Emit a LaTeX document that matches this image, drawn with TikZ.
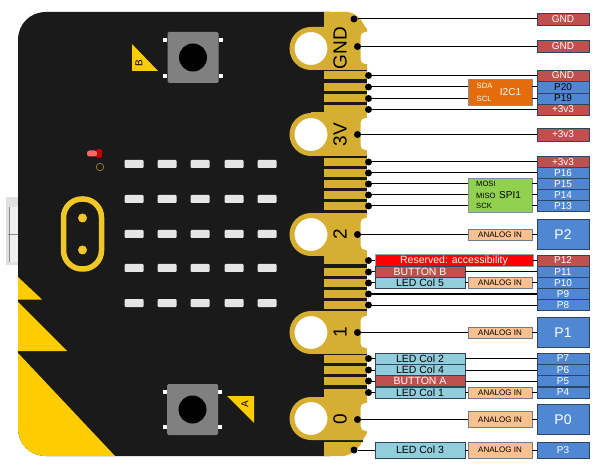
\documentclass[tikz,border=0pt]{standalone}
\usepackage{fontspec}
\setmainfont{Liberation Sans}
\usepackage{tikz}
\definecolor{boardblack}{HTML}{1A1A1A}
\definecolor{padgold}{HTML}{D6AE32}
\definecolor{cornery}{HTML}{FFCC00}
\definecolor{logogold}{HTML}{EFC828}
\definecolor{edgeline}{HTML}{2F4460}
\definecolor{powerred}{HTML}{C0504D}
\definecolor{pinblue}{HTML}{4F87D2}
\definecolor{ledcyan}{HTML}{92CDDC}
\definecolor{analogtan}{HTML}{FAC090}
\definecolor{i2corange}{HTML}{E46C0A}
\definecolor{spigreen}{HTML}{92D050}
\tikzstyle{power}=[rectangle, draw=edgeline, fill=powerred, text=white, minimum width=52pt, inner sep=0pt, text centered, font=\fontsize{10}{12}\selectfont]
\tikzstyle{pin}=[rectangle, draw=edgeline, fill=pinblue, text=white, minimum width=52pt, inner sep=0pt, text centered, font=\fontsize{10}{12}\selectfont]
\tikzstyle{bigpin}=[pin, minimum height=30pt, font=\fontsize{14}{16}\selectfont]
\tikzstyle{ledcol}=[rectangle, draw=edgeline, fill=ledcyan, minimum width=90pt, inner sep=0pt, text centered, font=\fontsize{10.5}{12}\selectfont]
\tikzstyle{btn}=[ledcol, fill=powerred, text=white]
\tikzstyle{analog}=[rectangle, draw=edgeline!70, fill=analogtan, minimum width=64pt, inner sep=0pt, text centered, font=\fontsize{8}{10}\selectfont]
\tikzstyle{busbox}=[rectangle, draw=edgeline!60, minimum width=64pt, inner sep=0pt]
\tikzstyle{bustext}=[inner sep=0pt, anchor=west, font=\fontsize{7.6}{9}\selectfont]
\tikzstyle{busname}=[inner sep=0pt, font=\fontsize{10}{12}\selectfont]
\tikzstyle{dot}=[circle, fill=black, inner sep=0pt, minimum size=7pt]
\tikzstyle{wire}=[black, line width=1pt]
\tikzstyle{strip}=[rectangle, fill=padgold, inner sep=0pt, minimum width=43pt, minimum height=8pt]
\tikzstyle{hole}=[circle, draw=padgold, fill=white, line width=5pt, inner sep=0pt, minimum size=38pt]
\tikzstyle{padtext}=[inner sep=0pt, rotate=90, font=\fontsize{19}{21}\selectfont]
\tikzstyle{lamp}=[rectangle, fill=black!10, inner sep=0pt, minimum width=19pt, minimum height=8pt, rounded corners=1pt]
\tikzstyle{keybody}=[rectangle, fill=black!50, rounded corners=1.5pt, inner sep=0pt, minimum size=51pt]
\tikzstyle{keyhole}=[circle, fill=black, inner sep=0pt, minimum size=28pt]
\tikzstyle{keypin}=[rectangle, fill=white, inner sep=0pt, minimum size=4pt]
\tikzstyle{keytext}=[inner sep=0pt, rotate=90, font=\fontsize{10}{11}\selectfont]

\begin{document}
\begin{tikzpicture}[x=1pt,y=-1pt]
\useasboundingbox (0,0) rectangle (600,473);
%USB
\fill[black!12](6,197) rectangle(18,265);
\fill[black!6](10,207) rectangle(18,262);
\draw[black!45,line width=0.7pt](9.5,207) -- (9.5,262);
\draw[black!45,line width=0.7pt](8,234) -- (18,234);
%Board
\fill[boardblack](330,12) -- (46,12) .. controls (30,12) and (18,24) .. (18,40) -- (18,428) .. controls (18,444) and (30,456) .. (46,456) -- (330,456) -- cycle;
\fill[cornery](18,277) -- (42,299.5) -- (18,299.5) -- cycle;
\fill[cornery](18,302) -- (67,351) -- (18,351) -- cycle;
\fill[cornery](18,353) -- (115,456) -- (46,456) .. controls (30,456) and (18,444) .. (18,428) -- cycle;
\fill[boardblack](324,70) rectangle(367,113);
\fill[boardblack](324,156) rectangle(367,213);
\fill[boardblack](324,256) rectangle(367,311);
\fill[boardblack](324,354) rectangle(367,397);
\fill[boardblack](324,440) rectangle(363,442);
%Gold edge
\fill[padgold](324,12) -- (346,12) .. controls (354,12) and (361,18) .. (364,25) -- (367,29) -- (367,70) -- (311,70) -- (311,27) -- (324,27) -- cycle;
\fill[padgold](311,112.5) rectangle(367,156);
\fill[padgold](311,213) rectangle(367,256);
\fill[padgold](311,311) rectangle(367,354);
\fill[padgold](311,397) -- (367,397) -- (367,433) -- (363,440) -- (311,440) -- cycle;
\fill[padgold](324,442) -- (362,442) .. controls (358,450) and (350,456) .. (342,456) -- (324,456) -- cycle;
\fill[white,rounded corners=5pt](360.5,32) rectangle(373,64);
\fill[white,rounded corners=5pt](360.5,118) rectangle(373,150);
\fill[white,rounded corners=5pt](360.5,218) rectangle(373,250);
\fill[white,rounded corners=5pt](360.5,316) rectangle(373,348);
\fill[white,rounded corners=5pt](360.5,403) rectangle(373,431);
\node[hole] (h1) at (311,48.5){};
\node[hole] (h2) at (311,134.5){};
\node[hole] (h3) at (311,234.5){};
\node[hole] (h4) at (311,332.5){};
\node[hole] (h5) at (311,418.5){};
\node[padtext] (tgnd) at (340,48){GND};
\node[padtext] (t3v) at (340,134.5){3V};
\node[padtext] (t2) at (340,234.5){2};
\node[padtext] (t1) at (340,332.5){1};
\node[padtext] (t0) at (340,419){0};
%Strips
\node[strip] (s1) at (345.5,75.5){};
\node[strip] (s2) at (345.5,87){};
\node[strip] (s3) at (345.5,98.5){};
\node[strip] (s4) at (345.5,109.5){};
\node[strip] (s5) at (345.5,162){};
\node[strip] (s6) at (345.5,173){};
\node[strip] (s7) at (345.5,184){};
\node[strip] (s8) at (345.5,195){};
\node[strip] (s9) at (345.5,206){};
\node[strip] (s10) at (345.5,260.5){};
\node[strip] (s11) at (345.5,272){};
\node[strip] (s12) at (345.5,283){};
\node[strip] (s13) at (345.5,294){};
\node[strip] (s14) at (345.5,305){};
\node[strip] (s15) at (345.5,358.5){};
\node[strip] (s16) at (345.5,370){};
\node[strip] (s17) at (345.5,381){};
\node[strip] (s18) at (345.5,392.5){};
%Logo and red lamp
\draw[logogold,line width=5.5pt,rounded corners=18.5pt](63.5,199) rectangle(101.5,269);
\fill[logogold](82.5,218) circle(4.5);
\fill[logogold](82.5,250) circle(4.5);
\fill[red!75!black,rounded corners=2pt](96,149) rectangle(102,158);
\fill[red!60!white,rounded corners=2.5pt](87,150.5) rectangle(97,156.5);
\draw[padgold!80!black,line width=0.6pt](100,167) circle(3.8);
%Lamps
\node[lamp] (l11) at (134,164){};
\node[lamp] (l12) at (167,164){};
\node[lamp] (l13) at (200,164){};
\node[lamp] (l14) at (234,164){};
\node[lamp] (l15) at (267,164){};
\node[lamp] (l21) at (134,199){};
\node[lamp] (l22) at (167,199){};
\node[lamp] (l23) at (200,199){};
\node[lamp] (l24) at (234,199){};
\node[lamp] (l25) at (267,199){};
\node[lamp] (l31) at (134,234){};
\node[lamp] (l32) at (167,234){};
\node[lamp] (l33) at (200,234){};
\node[lamp] (l34) at (234,234){};
\node[lamp] (l35) at (267,234){};
\node[lamp] (l41) at (134,268){};
\node[lamp] (l42) at (167,268){};
\node[lamp] (l43) at (200,268){};
\node[lamp] (l44) at (234,268){};
\node[lamp] (l45) at (267,268){};
\node[lamp] (l51) at (134,303){};
\node[lamp] (l52) at (167,303){};
\node[lamp] (l53) at (200,303){};
\node[lamp] (l54) at (234,303){};
\node[lamp] (l55) at (267,303){};
%Button B
\node[keypin] (kb1) at (165,40){};
\node[keypin] (kb2) at (221,40){};
\node[keypin] (kb3) at (165,76){};
\node[keypin] (kb4) at (221,76){};
\node[keybody] (kb) at (193,57.5){};
\node[keyhole] (kbh) at (193,57.5){};
\fill[cornery](132,44) -- (158,71) -- (132,71) -- cycle;
\node[keytext] (tb) at (139,63.5){B};
%Button A
\node[keypin] (ka1) at (165,392){};
\node[keypin] (ka2) at (220,392){};
\node[keypin] (ka3) at (165,427){};
\node[keypin] (ka4) at (220,427){};
\node[keybody] (ka) at (192.5,409.5){};
\node[keyhole] (kah) at (192.5,409.5){};
\fill[cornery](227,396) -- (254,396) -- (254,423) -- cycle;
\node[keytext] (ta) at (245,404.5){A};
%Pin column
\node[power,minimum height=12pt] (gnd1) at (563,19){GND};
\node[power,minimum height=12pt] (gnd2) at (563,46.5){GND};
\node[power,minimum height=11pt] (gnd3) at (563,75.5){GND};
\node[pin,minimum height=11.5pt,text=black] (p20) at (563,87){P20};
\node[pin,minimum height=11.5pt,text=black] (p19) at (563,98.5){P19};
\node[power,minimum height=11pt] (vcc1) at (563,109.5){+3v3};
\node[power,minimum height=13pt] (vcc2) at (563,134.5){+3v3};
\node[power,minimum height=11pt] (vcc3) at (563,162){+3v3};
\node[pin,minimum height=11pt] (p16) at (563,173){P16};
\node[pin,minimum height=11pt] (p15) at (563,184){P15};
\node[pin,minimum height=11pt] (p14) at (563,195){P14};
\node[pin,minimum height=11pt] (p13) at (563,206){P13};
\node[bigpin] (p2) at (563,234.5){P2};
\node[power,minimum height=11.5pt] (p12) at (563,260.5){P12};
\node[pin,minimum height=11.5pt] (p11) at (563,272){P11};
\node[pin,minimum height=11pt] (p10) at (563,283){P10};
\node[pin,minimum height=11pt] (p9) at (563,294){P9};
\node[pin,minimum height=11pt] (p8) at (563,305){P8};
\node[bigpin] (p1) at (563,332.5){P1};
\node[pin,minimum height=11pt] (p7) at (563,358.5){P7};
\node[pin,minimum height=11pt] (p6) at (563,370){P6};
\node[pin,minimum height=11pt] (p5) at (563,381){P5};
\node[pin,minimum height=11pt] (p4) at (563,392.5){P4};
\node[bigpin] (p0) at (563,419.5){P0};
\node[pin,minimum height=16pt] (p3) at (563,450){P3};
%Middle boxes
\node[busbox,fill=i2corange,minimum height=26pt] (i2c) at (500,92.5){};
\node[bustext,text=white] (sda) at (476.5,86){SDA};
\node[bustext,text=white] (scl) at (476.5,99){SCL};
\node[busname,text=white] (i2cn) at (510.5,92.5){I2C1};
\node[busbox,fill=spigreen,minimum height=34pt] (spi) at (500,195){};
\node[bustext] (mosi) at (476,184){MOSI};
\node[bustext] (miso) at (476,196){MISO};
\node[bustext] (sck) at (476,206){SCK};
\node[busname] (spin) at (510,195){SPI1};
\node[analog,minimum height=11.5pt] (a2) at (500,234.5){ANALOG IN};
\node[analog,minimum height=11pt] (a10) at (500,283){ANALOG IN};
\node[analog,minimum height=11.5pt] (a1) at (500,332.5){ANALOG IN};
\node[analog,minimum height=11pt] (a4) at (500,392.5){ANALOG IN};
\node[analog,minimum height=16pt] (a0) at (500,419.5){ANALOG IN};
\node[analog,minimum height=16pt] (a3) at (500,450){ANALOG IN};
\node[rectangle,draw=edgeline!50,fill=red,text=white,minimum width=158pt,minimum height=12pt,inner sep=0pt,font=\fontsize{10.5}{12}\selectfont] (res) at (454,260.5){Reserved: accessibility};
\node[btn,minimum height=11pt] (bb) at (420,272){BUTTON B};
\node[ledcol,minimum height=11pt] (c5) at (420,283){LED Col 5};
\node[ledcol,minimum height=11pt] (c2) at (420,358.5){LED Col 2};
\node[ledcol,minimum height=11pt] (c4) at (420,370){LED Col 4};
\node[btn,minimum height=11pt] (ba) at (420,381){BUTTON A};
\node[ledcol,minimum height=11pt] (c1) at (420,392.5){LED Col 1};
\node[ledcol,minimum height=16pt] (c3) at (420,450){LED Col 3};
%Dots
\node[dot] (d1) at (354,19){};
\node[dot] (d2) at (357.5,46.5){};
\node[dot] (d3) at (368.5,75.5){};
\node[dot] (d4) at (368.5,87){};
\node[dot] (d5) at (368.5,98.5){};
\node[dot] (d6) at (368.5,109.5){};
\node[dot] (d7) at (357.5,134.5){};
\node[dot] (d8) at (368.5,162){};
\node[dot] (d9) at (368.5,173){};
\node[dot] (d10) at (368.5,184){};
\node[dot] (d11) at (368.5,195){};
\node[dot] (d12) at (368.5,206){};
\node[dot] (d13) at (357.5,234.5){};
\node[dot] (d14) at (368.5,260.5){};
\node[dot] (d15) at (368.5,272){};
\node[dot] (d16) at (368.5,283){};
\node[dot] (d17) at (368.5,294){};
\node[dot] (d18) at (368.5,305){};
\node[dot] (d19) at (357.5,332.5){};
\node[dot] (d20) at (368.5,358.5){};
\node[dot] (d21) at (368.5,370){};
\node[dot] (d22) at (368.5,381){};
\node[dot] (d23) at (368.5,392.5){};
\node[dot] (d24) at (357.5,419.5){};
\node[dot] (d25) at (354,450){};
%Wires
\draw[wire](d1) -- (gnd1);
\draw[wire](d2) -- (gnd2);
\draw[wire](d3) -- (gnd3);
\draw[wire](d4) -- (d4 -| i2c.west);
\draw[wire](d4 -| i2c.east) -- (p20);
\draw[wire](d5) -- (d5 -| i2c.west);
\draw[wire](d5 -| i2c.east) -- (p19);
\draw[wire](d6) -- (vcc1);
\draw[wire](d7) -- (vcc2);
\draw[wire](d8) -- (vcc3);
\draw[wire](d9) -- (p16);
\draw[wire](d10) -- (d10 -| spi.west);
\draw[wire](d10 -| spi.east) -- (p15);
\draw[wire](d11) -- (d11 -| spi.west);
\draw[wire](d11 -| spi.east) -- (p14);
\draw[wire](d12) -- (d12 -| spi.west);
\draw[wire](d12 -| spi.east) -- (p13);
\draw[wire](d13) -- (a2);
\draw[wire](a2) -- (p2);
\draw[wire](d14) -- (res);
\draw[wire](res) -- (p12);
\draw[wire](d15) -- (bb);
\draw[wire](bb) -- (p11);
\draw[wire](d16) -- (c5);
\draw[wire](c5) -- (a10);
\draw[wire](a10) -- (p10);
\draw[wire](d17) -- (p9);
\draw[wire](d18) -- (p8);
\draw[wire](d19) -- (a1);
\draw[wire](a1) -- (p1);
\draw[wire](d20) -- (c2);
\draw[wire](c2) -- (p7);
\draw[wire](d21) -- (c4);
\draw[wire](c4) -- (p6);
\draw[wire](d22) -- (ba);
\draw[wire](ba) -- (p5);
\draw[wire](d23) -- (c1);
\draw[wire](c1) -- (a4);
\draw[wire](a4) -- (p4);
\draw[wire](d24) -- (a0);
\draw[wire](a0) -- (p0);
\draw[wire](d25) -- (c3);
\draw[wire](c3) -- (a3);
\draw[wire](a3) -- (p3);
\end{tikzpicture}
\end{document}
